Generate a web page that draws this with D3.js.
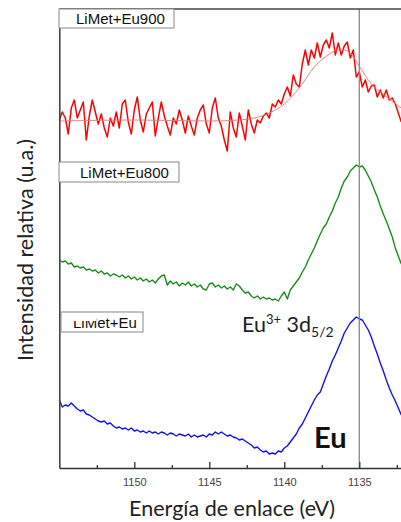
<!DOCTYPE html>
<html>
<head>
<meta charset="utf-8">
<script src="https://cdn.jsdelivr.net/npm/d3@7"></script>
<style>
  html, body { margin: 0; padding: 0; background: #fff; }
  svg { display: block; }
</style>
</head>
<body>
<svg id="chart" width="401" height="522"></svg>
<script>
// Binding energy grid (eV)
const energies = [
  1155.0,1154.8,1154.6,1154.4,1154.2,1154.0,1153.8,1153.6,1153.4,1153.2,
  1153.0,1152.8,1152.6,1152.4,1152.2,1152.0,1151.8,1151.6,1151.4,1151.2,
  1151.0,1150.8,1150.6,1150.4,1150.2,1150.0,1149.8,1149.6,1149.4,1149.2,
  1149.0,1148.8,1148.6,1148.4,1148.2,1148.0,1147.8,1147.6,1147.4,1147.2,
  1147.0,1146.8,1146.6,1146.4,1146.2,1146.0,1145.8,1145.6,1145.4,1145.2,
  1145.0,1144.8,1144.6,1144.4,1144.2,1144.0,1143.8,1143.6,1143.4,1143.2,
  1143.0,1142.8,1142.6,1142.4,1142.2,1142.0,1141.8,1141.6,1141.4,1141.2,
  1141.0,1140.8,1140.6,1140.4,1140.2,1140.0,1139.8,1139.6,1139.4,1139.2,
  1139.0,1138.8,1138.6,1138.4,1138.2,1138.0,1137.8,1137.6,1137.4,1137.2,
  1137.0,1136.8,1136.6,1136.4,1136.2,1136.0,1135.8,1135.6,1135.4,1135.2,
  1135.0,1134.8,1134.6,1134.4,1134.2,1134.0,1133.8,1133.6,1133.4,1133.2,
  1133.0,1132.8,1132.6,1132.4,1132.2
];

// LiMet+Eu900 (raw, noisy) – relative intensity (stacked, a.u.)
const eu900 = [
  348,356,350,334,360,368,350,358,366,328,
  352,368,356,344,354,340,331,350,342,356,
  340,364,368,346,334,358,371,348,336,354,
  360,366,332,350,366,352,342,333,350,344,
  358,348,335,352,342,333,350,358,363,344,
  335,360,370,350,342,328,317,356,340,331,
  355,342,328,358,344,335,348,345,352,355,
  350,364,361,368,364,374,381,372,393,384,
  381,404,418,403,418,410,425,411,423,428,
  420,435,413,425,413,422,426,410,418,391,
  396,381,388,376,382,383,371,378,370,378,
  368,370,364,355,346
];

// LiMet+Eu900 smoothed envelope
const eu900FitE = [1155,1150,1145,1143,1142,1141,1140,1139,1138,1137,1136.5,1136,1135.5,1135,1134.5,1134,1133.5,1133,1132.2];
const eu900Fit  = [347,348,347,348,350,355,364,380,401,414,418,418,413,402,390,381,375,369,360];

// LiMet+Eu800
const eu800 = [
  208,206,207,204,205,201,202,200,201,198,
  199,197,198,195,197,194,195,192,194,193,
  191,193,190,192,189,191,188,190,187,189,
  186,188,185,189,192,193,183,187,184,186,
  182,185,183,186,182,184,181,183,179,178,
  184,185,181,183,180,182,179,181,178,184,
  182,178,175,176,172,170,172,169,171,169,
  170,168,169,167,172,176,169,178,182,186,
  190,196,201,208,214,220,227,234,240,244,
  251,257,265,271,280,287,291,297,300,303,
  301,302,298,292,286,278,271,262,254,247,
  239,231,220,212,204
];

// LiMet+Eu
const eu = [
  68,61,63,62,65,62,59,57,58,54,
  53,51,49,47,46,47,44,45,42,40,
  41,39,40,38,40,37,38,36,37,35,
  37,35,36,34,36,35,33,35,34,32,
  34,33,32,34,31,33,31,32,33,31,
  34,33,36,34,36,34,32,33,31,30,
  28,29,27,25,23,20,21,18,16,17,
  14,15,14,17,16,20,22,26,30,34,
  40,44,50,56,62,68,73,76,84,92,
  99,107,113,120,127,135,140,145,148,151,
  149,148,143,138,131,122,114,105,97,88,
  80,73,67,60,53
];

const majorTicks = [1150, 1145, 1140, 1135];
const minorTicks = [1152.5, 1147.5, 1142.5, 1137.5, 1132.5];
const peakEnergy = 1135;

const svg = d3.select("#chart");
const mLeft = 59.3, mRight = 401.3, mTop = 9, mBottom = 468;

const x = d3.scaleLinear().domain([1155, 1132.2]).range([mLeft, mRight]);
const y = d3.scaleLinear().domain([0, 459]).range([mBottom, mTop]);

const line = d3.line().x(d => x(d[0])).y(d => y(d[1]));
const smooth = d3.line().x(d => x(d[0])).y(d => y(d[1])).curve(d3.curveMonotoneX);
const pairs = vals => energies.map((e, i) => [e, vals[i]]);

// Curves
svg.append("path").datum(pairs(eu900)).attr("d", line)
  .attr("fill", "none").attr("stroke", "#ff0000").attr("stroke-width", 1.5).attr("stroke-linejoin", "round");
svg.append("path").datum(eu900FitE.map((e, i) => [e, eu900Fit[i]]))
  .attr("d", smooth)
  .attr("fill", "none").attr("stroke", "#ff7070").attr("stroke-width", 0.9);
svg.append("path").datum(pairs(eu800)).attr("d", line)
  .attr("fill", "none").attr("stroke", "#1e8a1e").attr("stroke-width", 1.4).attr("stroke-linejoin", "round");
svg.append("path").datum(pairs(eu)).attr("d", line)
  .attr("fill", "none").attr("stroke", "#1010ff").attr("stroke-width", 1.4).attr("stroke-linejoin", "round");

// Vertical reference line at peak
svg.append("line")
  .attr("x1", x(peakEnergy)).attr("x2", x(peakEnergy))
  .attr("y1", mTop).attr("y2", mBottom)
  .attr("stroke", "#888").attr("stroke-width", 1.3);

// Axes
const xAxis = svg.append("g").attr("transform", `translate(0,${mBottom})`)
  .call(d3.axisBottom(x).tickValues(majorTicks).tickFormat(d3.format("d"))
    .tickSizeInner(-6).tickSizeOuter(0).tickPadding(10));
xAxis.select(".domain").attr("stroke", "#333").attr("stroke-width", 1.6);
xAxis.selectAll(".tick line").attr("stroke", "#333").attr("stroke-width", 1.3);
xAxis.selectAll("text").attr("font-family", "Liberation Sans, Arial, sans-serif")
  .attr("font-size", 11).attr("fill", "#444");

const xMinor = svg.append("g").attr("transform", `translate(0,${mBottom})`)
  .call(d3.axisBottom(x).tickValues(minorTicks).tickFormat("").tickSizeInner(-3).tickSizeOuter(0));
xMinor.select(".domain").remove();
xMinor.selectAll(".tick line").attr("stroke", "#333").attr("stroke-width", 1.3);

const yAxis = svg.append("g").attr("transform", `translate(${mLeft},0)`)
  .call(d3.axisLeft(y).tickValues([]).tickSizeOuter(0));
yAxis.select(".domain").attr("stroke", "#444").attr("stroke-width", 1.6);

// Top frame
svg.append("line").attr("x1", mLeft).attr("x2", mRight).attr("y1", mTop).attr("y2", mTop)
  .attr("stroke", "#444").attr("stroke-width", 1.6);

// Axis titles
svg.append("text").attr("x", 232).attr("y", 516)
  .attr("text-anchor", "middle").attr("font-family", "Lato, sans-serif").attr("font-size", 21.5).attr("fill", "#222")
  .text("Energía de enlace (eV)");
svg.append("text").attr("transform", "translate(33,250) rotate(-90)")
  .attr("text-anchor", "middle").attr("font-family", "Lato, sans-serif").attr("font-size", 21.5).attr("fill", "#222")
  .text("Intensidad relativa (u.a.)");

// Legend boxes
const legends = [
  {label: "LiMet+Eu900", x0: 59, x1: 174, y0: 9, y1: 28, tx: 76, ty: 24},
  {label: "LiMet+Eu800", x0: 59, x1: 179, y0: 162, y1: 182, tx: 80, ty: 178},
  {label: "LiMet+Eu", x0: 61, x1: 143, y0: 312, y1: 332, tx: 73, ty: 328}
];
legends.forEach(l => {
  svg.append("rect").attr("x", l.x0).attr("y", l.y0).attr("width", l.x1 - l.x0).attr("height", l.y1 - l.y0)
    .attr("fill", "#fff").attr("stroke", "#888").attr("stroke-width", 1);
  svg.append("text").attr("x", l.tx).attr("y", l.ty)
    .attr("font-family", "Liberation Sans, Arial, sans-serif").attr("font-size", 15).attr("fill", "#111")
    .text(l.label);
});
// partially covering patch over the third label
svg.append("rect").attr("x", 62).attr("y", 313).attr("width", 34).attr("height", 8).attr("fill", "#fff");

// Annotations
const ann = svg.append("text").attr("x", 242).attr("y", 332)
  .attr("font-family", "Lato, sans-serif").attr("font-size", 21.5).attr("fill", "#222");
ann.append("tspan").text("Eu");
ann.append("tspan").attr("font-size", 13).attr("dy", -8).text("3+");
ann.append("tspan").attr("dy", 8).text(" 3d");
ann.append("tspan").attr("font-size", 14).attr("dy", 5).text("5/2");

svg.append("text").attr("x", 314).attr("y", 448)
  .attr("font-family", "Lato, sans-serif").attr("font-weight", "bold").attr("font-size", 29).attr("fill", "#111")
  .text("Eu");
</script>
</body>
</html>
